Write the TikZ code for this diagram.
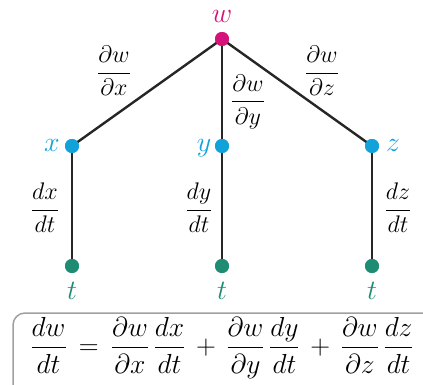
\documentclass[tikz,border=0pt]{standalone}
\usepackage{fix-cm}
\usepackage{amsmath}
\definecolor{wcol}{HTML}{D4127A}
\definecolor{xcol}{HTML}{12A2DA}
\definecolor{tcol}{HTML}{1E8C73}
\definecolor{boxcol}{HTML}{A0A0A0}
\begin{document}
\begin{tikzpicture}[x=1pt,y=-1pt,
  dot/.style={circle,inner sep=0pt,minimum size=14pt,fill=#1},
  conn/.style={line width=2.4pt,black!85},
  lab/.style={font=\fontsize{28}{32}\selectfont,inner sep=0pt,anchor=base},
  elab/.style={font=\fontsize{24}{28}\selectfont,inner sep=0pt}]
\clip (0,0) rectangle (423,385);
\node[dot=wcol] (w) at (222,39) {};
\node[dot=xcol] (x) at (72,146) {};
\node[dot=xcol] (y) at (222,146) {};
\node[dot=xcol] (z) at (372,146) {};
\node[dot=tcol] (tx) at (72,266) {};
\node[dot=tcol] (ty) at (222,266) {};
\node[dot=tcol] (tz) at (372,266) {};
\draw[conn] (w.center) -- (x.center);
\draw[conn] (w.center) -- (y.center);
\draw[conn] (w.center) -- (z.center);
\draw[conn] (x.center) -- (tx.center);
\draw[conn] (y.center) -- (ty.center);
\draw[conn] (z.center) -- (tz.center);
\node[dot=wcol] at (w) {};
\node[dot=xcol] at (x) {};
\node[dot=xcol] at (y) {};
\node[dot=xcol] at (z) {};
\node[dot=tcol] at (tx) {};
\node[dot=tcol] at (ty) {};
\node[dot=tcol] at (tz) {};
\node[lab,text=wcol] (lw) at (222,23) {$w$};
\node[lab,text=xcol] (lx) at (52,152) {$x$};
\node[lab,text=xcol] (ly) at (204,152) {$y$};
\node[lab,text=xcol] (lz) at (393,152) {$z$};
\node[lab,text=tcol] (ltx) at (72,299) {$t$};
\node[lab,text=tcol] (lty) at (222,299) {$t$};
\node[lab,text=tcol] (ltz) at (372,299) {$t$};
\node[elab] (pwx) at (114,71) {$\dfrac{\partial w}{\partial x}$};
\node[elab] (pwy) at (248,102) {$\dfrac{\partial w}{\partial y}$};
\node[elab] (pwz) at (322,71) {$\dfrac{\partial w}{\partial z}$};
\node[elab] (dxt) at (45,208) {$\dfrac{dx}{dt}$};
\node[elab] (dyt) at (199,208) {$\dfrac{dy}{dt}$};
\node[elab] (dzt) at (398,208) {$\dfrac{dz}{dt}$};
\draw[boxcol,line width=1.5pt,rounded corners=12pt] (13,313) rectangle (440,400);
\node[font=\fontsize{27.5}{31}\selectfont,inner sep=0pt] (eq) at (222,348)
  {$\dfrac{dw}{dt}\,=\,\dfrac{\partial w}{\partial x}\,\dfrac{dx}{dt}\,+\,\dfrac{\partial w}{\partial y}\,\dfrac{dy}{dt}\,+\,\dfrac{\partial w}{\partial z}\,\dfrac{dz}{dt}$};
\end{tikzpicture}
\end{document}
